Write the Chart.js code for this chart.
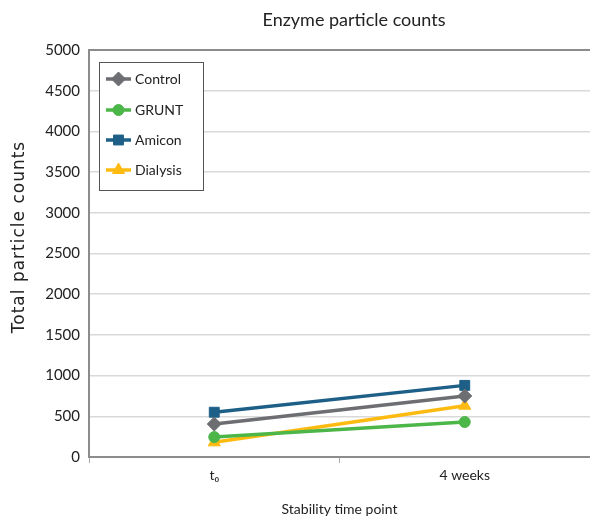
<!DOCTYPE html>
<html>
<head>
<meta charset="utf-8">
<title>Enzyme particle counts</title>
<script src="https://cdn.jsdelivr.net/npm/chart.js@4/dist/chart.umd.min.js"></script>
<style>
  html, body { margin: 0; padding: 0; background: #fff; }
  #wrap { width: 590px; height: 520px; }
</style>
</head>
<body>
<div id="wrap"><canvas id="chart" width="590" height="520"></canvas></div>
<script>
// chart values
var timePoints = ['t\u2080', '4 weeks'];
var seriesNames = ['Control', 'GRUNT', 'Amicon', 'Dialysis'];
var controlCounts = [405, 750];
var gruntCounts = [245, 430];
var amiconCounts = [550, 880];
var dialysisCounts = [180, 630];
var yTicks = [0, 500, 1000, 1500, 2000, 2500, 3000, 3500, 4000, 4500, 5000];

var chartTitle = 'Enzyme particle counts';
var yTitle = 'Total particle counts';

var colors = ['#6d6e71', '#4cb648', '#1d5f87', '#fdbb12'];
var markers = ['rectRot', 'circle', 'rect', 'triangle'];
var sizes = [7, 5.5, 7, 7];
var seriesData = [controlCounts, gruntCounts, amiconCounts, dialysisCounts];

var fontName = 'Lato, "Noto Sans", sans-serif';

// titles placed by hand: the reference does not center them on the canvas
var titles = {
  id: 'titles',
  afterDraw: function (chart) {
    var ctx = chart.ctx;
    ctx.save();
    ctx.fillStyle = '#222222';
    ctx.textAlign = 'center';
    ctx.textBaseline = 'middle';
    ctx.font = '18px ' + fontName;
    ctx.fillText(chartTitle, 354, 20);

    ctx.translate(20, 237);
    ctx.rotate(-Math.PI / 2);
    ctx.font = '17px "DejaVu Sans", sans-serif';
    if ('letterSpacing' in ctx) ctx.letterSpacing = '1px';
    ctx.fillText(yTitle, 0, 0);
    ctx.restore();
  }
};

// legend drawn inside the plot, in a boxed panel at the top left
var boxLegend = {
  id: 'boxLegend',
  afterDatasetsDraw: function (chart) {
    var ctx = chart.ctx;
    var x0 = 99, y0 = 62, w = 104, h = 128;
    ctx.save();
    ctx.fillStyle = '#ffffff';
    ctx.fillRect(x0, y0, w, h);
    ctx.strokeStyle = '#555555';
    ctx.lineWidth = 1;
    ctx.strokeRect(x0 + 0.5, y0 + 0.5, w, h);
    var rows = [79, 110, 140, 170];
    chart.data.datasets.forEach(function (ds, i) {
      var y = rows[i];
      ctx.strokeStyle = ds.borderColor;
      ctx.lineWidth = 3.5;
      ctx.beginPath();
      ctx.moveTo(106, y);
      ctx.lineTo(131, y);
      ctx.stroke();
      ctx.fillStyle = ds.borderColor;
      ctx.lineWidth = 1;
      Chart.helpers.drawPoint(ctx, {
        pointStyle: ds.pointStyle,
        radius: ds.pointRadius,
        borderWidth: 1
      }, 118.5, y);
      ctx.fillStyle = '#222222';
      ctx.font = '14px ' + fontName;
      ctx.textBaseline = 'middle';
      ctx.fillText(ds.label, 135, y);
    });
    ctx.restore();
  }
};

var datasets = seriesNames.map(function (name, i) {
  return {
    label: name,
    data: seriesData[i],
    borderColor: colors[i],
    backgroundColor: colors[i],
    pointBackgroundColor: colors[i],
    pointBorderColor: colors[i],
    pointBorderWidth: 1,
    pointStyle: markers[i],
    pointRadius: sizes[i],
    borderWidth: 3.5,
    tension: 0
  };
});

var ctx = document.getElementById('chart').getContext('2d');
var chart = new Chart(ctx, {
  type: 'line',
  data: { labels: timePoints, datasets: datasets },
  plugins: [boxLegend, titles],
  options: {
    responsive: false,
    animation: false,
    layout: { autoPadding: false, padding: { top: 50, left: 0, right: 0, bottom: 0 } },
    plugins: {
      legend: { display: false },
      tooltip: { enabled: false },
      title: { display: false }
    },
    scales: {
      x: {
        offset: true,
        grid: {
          display: true,
          drawOnChartArea: false,
          offset: true,
          tickLength: 6,
          color: '#aaaaaa'
        },
        border: { color: '#8c8c8c', width: 2 },
        ticks: {
          color: '#222222',
          font: { family: fontName, size: 14 },
          padding: 4
        },
        title: {
          display: true,
          text: 'Stability time point',
          color: '#222222',
          font: { family: fontName, size: 14 },
          padding: { top: 0, bottom: 2 }
        },
        afterFit: function (scale) { scale.height = 63; }
      },
      y: {
        min: 0,
        max: 5000,
        afterBuildTicks: function (scale) {
          scale.ticks = yTicks.map(function (v) { return { value: v }; });
        },
        grid: {
          color: function (c) {
            return c.tick && c.tick.value === 5000 ? '#8c8c8c' : '#d9d9d9';
          },
          lineWidth: function (c) {
            return c.tick && c.tick.value === 5000 ? 2 : 1.5;
          },
          drawTicks: false
        },
        border: { color: '#8c8c8c', width: 2 },
        ticks: {
          color: '#222222',
          font: { family: fontName, size: 15 },
          padding: 9,
          callback: function (value) { return String(value); }
        },
        title: { display: false },
        afterFit: function (scale) { scale.width = 89; }
      }
    }
  }
});
</script>
</body>
</html>
